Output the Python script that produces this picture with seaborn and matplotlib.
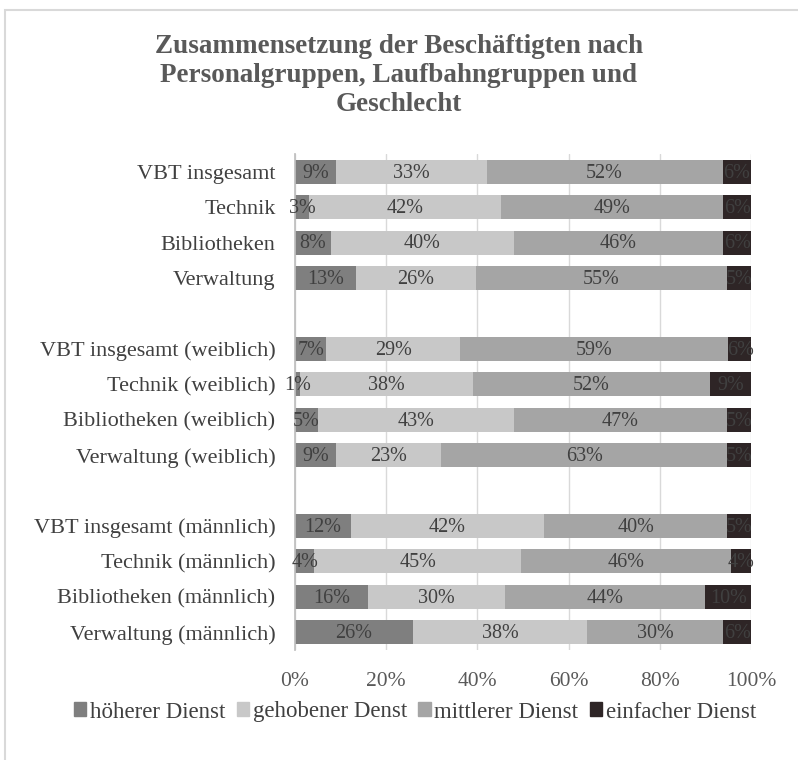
import numpy as np
import pandas as pd
import matplotlib.pyplot as plt
import matplotlib.patches as mpatches
import matplotlib.ticker as ticker
import seaborn as sns

# --- Daten (Anteile in %) ---
gruppen = ['VBT insgesamt', 'Technik', 'Bibliotheken', 'Verwaltung', ' ',
           'VBT insgesamt (weiblich)', 'Technik (weiblich)', 'Bibliotheken (weiblich)',
           'Verwaltung (weiblich)', '  ',
           'VBT insgesamt (männlich)', 'Technik (männlich)', 'Bibliotheken (männlich)',
           'Verwaltung (männlich)']
hoeherer = [9.0, 3.1, 7.9, 13.3, 0, 6.9, 1.1, 5.0, 9.0, 0, 12.3, 4.2, 15.9, 25.9]
gehobener = [33.0, 42.1, 40.1, 26.4, 0, 29.3, 38.0, 43.0, 23.0, 0, 42.3, 45.4, 30.2, 38.1]
mittlerer = [51.8, 48.7, 45.9, 55.0, 0, 58.8, 51.9, 46.8, 62.8, 0, 40.2, 46.1, 43.9, 29.9]
einfacher = [6.2, 6.1, 6.1, 5.3, 0, 5.6, 9.0, 5.2, 5.2, 0, 5.2, 4.3, 10.0, 6.1]
leer = [' ', '  ']

serien = ['höherer Dienst', 'gehobener Denst', 'mittlerer Dienst', 'einfacher Dienst']
farben = ['#7f7f7f', '#c8c8c8', '#a5a5a5', '#2e2526']

df = pd.DataFrame({'Gruppe': gruppen, serien[0]: hoeherer, serien[1]: gehobener,
                   serien[2]: mittlerer, serien[3]: einfacher})
werte = df[serien].to_numpy(dtype=float)
kum = np.cumsum(werte, axis=1)

sns.set_theme(style='white')
plt.rcParams['font.family'] = ['Liberation Serif', 'DejaVu Serif']

fig = plt.figure(figsize=(7.98, 7.6), dpi=100)
ax = fig.add_axes([295 / 798, 1 - 650 / 760, 456 / 798, 496 / 760])

# gestapelte Balken: kumulierte Summen von hinten nach vorne zeichnen
for i in range(3, -1, -1):
    d = pd.DataFrame({'Gruppe': gruppen, 'wert': kum[:, i]})
    sns.barplot(data=d, x='wert', y='Gruppe', order=gruppen, orient='h',
                color=farben[i], saturation=1, width=0.68, errorbar=None,
                ax=ax, zorder=2, linewidth=0)

# Beschriftungen in den Segmenten
for r, g in enumerate(gruppen):
    if g in leer:
        continue
    links = 0
    for i in range(4):
        v = werte[r, i]
        ax.text(links + v / 2, r + 0.04, f'{round(v):d}%', ha='center', va='center',
                fontsize=14.5, color='#404040', zorder=3, clip_on=False)
        links += v

ax.set_xlim(0, 100)
ax.set_ylim(13.5, -0.5)
ax.xaxis.set_major_locator(ticker.MultipleLocator(20))
ax.xaxis.set_major_formatter(ticker.FuncFormatter(lambda x, pos: f'{x:.0f}%'))
ax.grid(axis='x', color='#d9d9d9', linewidth=1, zorder=0)
ax.set_axisbelow(True)
ax.set_xlabel('')
ax.set_ylabel('')
for s in ['top', 'right', 'bottom']:
    ax.spines[s].set_visible(False)
ax.spines['left'].set_color('#bfbfbf')
ax.tick_params(axis='x', length=0, pad=15.5, labelsize=15.5, labelcolor='#595959')
ax.tick_params(axis='y', length=0, pad=14, labelsize=16, labelcolor='#404040')

fig.suptitle('Zusammensetzung der Beschäftigten nach\nPersonalgruppen, Laufbahngruppen und\nGeschlecht',
             x=0.50, y=1 - 34 / 760, fontsize=19.5, fontweight='bold', color='#595959',
             linespacing=1.22, va='top')

handles = [mpatches.Patch(color=c, label=s) for s, c in zip(serien, farben)]
fig.legend(handles=handles, loc='center', bbox_to_anchor=(0.52, 1 - 712 / 760), ncol=4,
           frameon=False, fontsize=16.5, handlelength=0.55, handleheight=0.55,
           handletextpad=0.15, columnspacing=0.5, labelcolor='#404040')

fig.patches.append(mpatches.Rectangle((5 / 798, -0.1), 1.2, 1 - 10 / 760 + 0.1,
                                      transform=fig.transFigure, fill=False,
                                      edgecolor='#d9d9d9', linewidth=1.5))

fig.savefig('out.png', dpi=100)
